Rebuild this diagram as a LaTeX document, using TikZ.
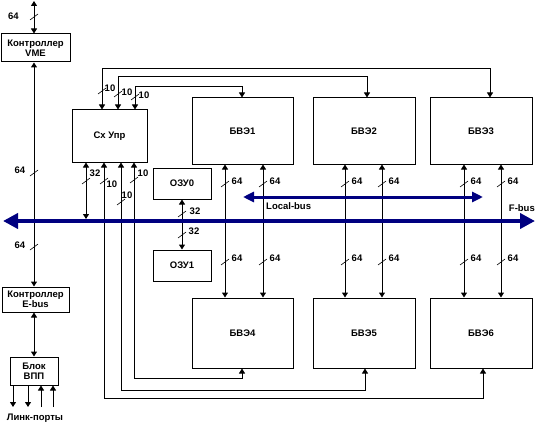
\documentclass[tikz,border=0pt]{standalone}
\usepackage{fontspec}
\setmainfont{Liberation Sans}
\usepackage{tikz}
\usetikzlibrary{arrows.meta,calc}
\definecolor{busblue}{RGB}{0,0,128}

% width mark: slash at (x,y), label text at given point
\newcommand{\wmark}[5]{%
    \draw[cut] (#1-4,#2+3)--(#1+4,#2-3);
    \node[lbl] (#5) at (#3) {#4};
}

\begin{document}
\begin{tikzpicture}[x=1pt,y=-1pt,
    font=\fontsize{9.5}{10.5}\selectfont\bfseries,
    blk/.style={draw,line width=1pt,inner sep=0pt,align=center},
    bi/.style={line width=1pt,{Triangle[length=5pt,width=6pt]}-{Triangle[length=5pt,width=6pt]}},
    uni/.style={line width=1pt,-{Triangle[length=5pt,width=6pt]}},
    cut/.style={line width=0.6pt},
    lbl/.style={inner sep=0pt},
    fbus/.style={busblue,line width=4pt,{Triangle[length=15pt,width=15pt]}-{Triangle[length=15pt,width=15pt]}},
    lbus/.style={busblue,line width=3pt,{Triangle[length=11pt,width=10pt]}-{Triangle[length=11pt,width=10pt]}}]
    \useasboundingbox (0,0) rectangle (535,425);

    % left column
    \node[blk,minimum width=69pt,minimum height=28pt] (vme) at (35.5,48) {Контроллер\\VME};
    \node[blk,minimum width=67pt,minimum height=25pt] (ebus) at (35.5,299.5) {Контроллер\\E-bus};
    \node[blk,minimum width=48pt,minimum height=28pt] (vpp) at (34,371) {Блок\\ВПП};
    \node (ports) at (35,418) {Линк-порты};

    % control and memory
    \node[blk,minimum width=75pt,minimum height=52pt] (upr) at (109.5,136) {Сх Упр};
    \node[blk,minimum width=58pt,minimum height=31pt] (ozu0) at (182,183.5) {ОЗУ0};
    \node[blk,minimum width=58pt,minimum height=31pt] (ozu1) at (182,265.5) {ОЗУ1};

    % computing blocks
    \node[blk,minimum width=101pt,minimum height=66pt] (bve1) at (242.5,131) {БВЭ1};
    \node[blk,minimum width=102pt,minimum height=66pt] (bve2) at (364,131) {БВЭ2};
    \node[blk,minimum width=102pt,minimum height=66pt] (bve3) at (481,131) {БВЭ3};
    \node[blk,minimum width=101pt,minimum height=70pt] (bve4) at (242.5,333) {БВЭ4};
    \node[blk,minimum width=102pt,minimum height=70pt] (bve5) at (364,333) {БВЭ5};
    \node[blk,minimum width=102pt,minimum height=70pt] (bve6) at (481,333) {БВЭ6};

    % VME / E-bus / link ports
    \coordinate (vmetop) at (34,1);
    \draw[bi] (vmetop) -- (vme.north -| vmetop);
    \draw[bi] (vme.south -| vmetop) -- (ebus.north -| vmetop);
    \draw[bi] (ebus.south -| vmetop) -- (vpp.north -| vmetop);
    \coordinate (lp1) at (13,407);
    \coordinate (lp2) at (28,407);
    \coordinate (lp3) at (41,407);
    \coordinate (lp4) at (53,407);
    \draw[uni] (vpp.south -| lp1) -- (lp1);
    \draw[uni] (vpp.south -| lp2) -- (lp2);
    \draw[uni] (lp3) -- (vpp.south -| lp3);
    \draw[uni] (lp4) -- (vpp.south -| lp4);
    \wmark{34}{17}{13.5,16}{64}{w1}
    \wmark{34}{173}{20,170}{64}{w2}
    \wmark{34}{247}{20,245}{64}{w3}

    % control lines from the top
    \draw[bi] (upr.north -| 102,0) -- (102,69) -| (bve3.north -| 490,0);
    \draw[bi] (upr.north -| 118,0) -- (118,77) -| (bve2.north -| 367,0);
    \draw[bi] (upr.north -| 135,0) -- (135,87) -| (bve1.north -| 242,0);
    \wmark{102}{91}{110,88}{10}{w4}
    \wmark{118}{94}{127,92}{10}{w5}
    \wmark{135}{97}{144,95}{10}{w6}

    % control lines from the bottom
    \coordinate (uprbus) at (86,219);
    \draw[bi] (upr.south -| uprbus) -- (uprbus);
    \draw[bi] (upr.south -| 104,0) -- (104,398) -| (bve6.south -| 483,0);
    \draw[bi] (upr.south -| 121,0) -- (121,390) -| (bve5.south -| 365,0);
    \draw[bi] (upr.south -| 134,0) -- (134,378) -| (bve4.south -| 242,0);
    \wmark{86}{181}{95,173}{32}{w7}
    \wmark{104}{181}{112,184}{10}{w8}
    \wmark{121}{202}{127,195}{10}{w9}
    \wmark{134}{180}{143,173}{10}{w10}

    % memory
    \draw[bi] (ozu0.south) -- (ozu1.north);
    \wmark{182}{214}{195,211}{32}{w11}
    \wmark{182}{235}{194,231}{32}{w12}

    % links between rows
    \foreach \x/\a/\b in {225/bve1/bve4,263/bve1/bve4,345/bve2/bve5,382/bve2/bve5,464/bve3/bve6,501/bve3/bve6}{
        \draw[bi] (\a.south -| \x,0) -- (\b.north -| \x,0);
        \draw[cut] (\x-4,187)--(\x+4,181);
        \node[lbl] at (\x+12,181) {64};
        \draw[cut] (\x-4,265)--(\x+4,259);
        \node[lbl] at (\x+12,258) {64};
    }

    % buses
    \coordinate (fbl) at (3,221);
    \coordinate (fbr) at (535,221);
    \draw[fbus] (fbl) -- (fbr);
    \node[lbl,anchor=east] (fname) at (535,208) {F-bus};
    \coordinate (lbl1) at (243,197);
    \coordinate (lbr1) at (483,197);
    \draw[lbus] (lbl1) -- (lbr1);
    \node[lbl,anchor=west] (lname) at (266,206) {Local-bus};
\end{tikzpicture}
\end{document}
